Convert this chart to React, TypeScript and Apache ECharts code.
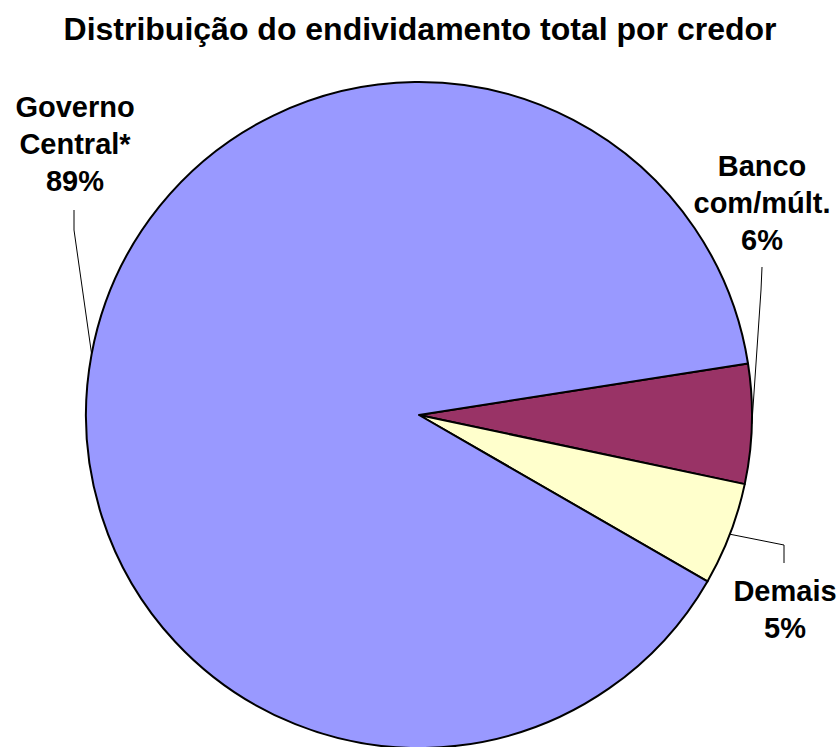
import React, { useEffect, useRef } from "react";
import * as echarts from "echarts";

const TITLE = "Distribuição do endividamento total por credor";
const categories = ["Banco com/múlt.", "Demais", "Governo Central*"];
const labelTexts = ["Banco\ncom/múlt.", "Demais", "Governo\nCentral*"];
const values = [5.8, 5.0, 89.2];
const colors = ["#993366", "#FFFFCC", "#9999FF"];

const FONT = "'Liberation Sans', Arial, Helvetica, sans-serif";
const CX = 419;
const CY = 415;
const R = 333;
const START = 8.9;

// label block centres and leader-line bend points (layout only)
const labelAnchors: number[][] = [
  [762, 203],
  [785, 609],
  [75, 144],
];
const leaderBends: number[][][] = [
  [[761, 290], [762, 267]],
  [[784, 545], [784, 563]],
  [[74, 230], [74, 210]],
];

function edgePoint(i: number): number[] {
  const total = values.reduce((a, b) => a + b, 0);
  let cum = 0;
  for (let k = 0; k < i; k++) cum += values[k];
  const mid = START - ((cum + values[i] / 2) / total) * 360;
  const rad = (mid * Math.PI) / 180;
  return [CX + R * Math.cos(rad), CY - R * Math.sin(rad)];
}

export default function App() {
  const ref = useRef<HTMLDivElement>(null);
  useEffect(() => {
    if (!ref.current) return;
    const chart = echarts.init(ref.current, undefined, { renderer: "svg" });
    chart.setOption({
      animation: false,
      backgroundColor: "#ffffff",
      title: {
        text: TITLE,
        left: "center",
        top: 8,
        textStyle: {
          fontSize: 32,
          fontWeight: "bold",
          color: "#000",
          fontFamily: FONT,
        },
      },
      series: [
        {
          type: "pie",
          center: [CX, CY],
          radius: R,
          startAngle: START,
          clockwise: true,
          avoidLabelOverlap: false,
          emphasis: { disabled: true },
          itemStyle: { borderColor: "#000", borderWidth: 2 },
          label: {
            show: true,
            position: "outside",
            color: "#000",
            fontSize: 29,
            fontWeight: "bold",
            lineHeight: 37,
            fontFamily: FONT,
            align: "center",
            overflow: "none",
            formatter: (p: any) =>
              `${labelTexts[p.dataIndex]}\n${Math.round(p.percent)}%`,
          },
          labelLine: {
            show: true,
            length: 5,
            length2: 5,
            lineStyle: { color: "#000", width: 1 },
          },
          labelLayout: (params: any) => {
            const i = params.dataIndex;
            const [x, y] = labelAnchors[i];
            return {
              x,
              y,
              align: "center",
              verticalAlign: "middle",
              labelLinePoints: [edgePoint(i), ...leaderBends[i]],
            };
          },
          data: categories.map((name, i) => ({
            name,
            value: values[i],
            itemStyle: { color: colors[i] },
          })),
        },
      ],
    });
    return () => chart.dispose();
  }, []);
  return (
    <div
      ref={ref}
      style={{ position: "fixed", left: 0, top: 0, width: 840, height: 747 }}
    />
  );
}
